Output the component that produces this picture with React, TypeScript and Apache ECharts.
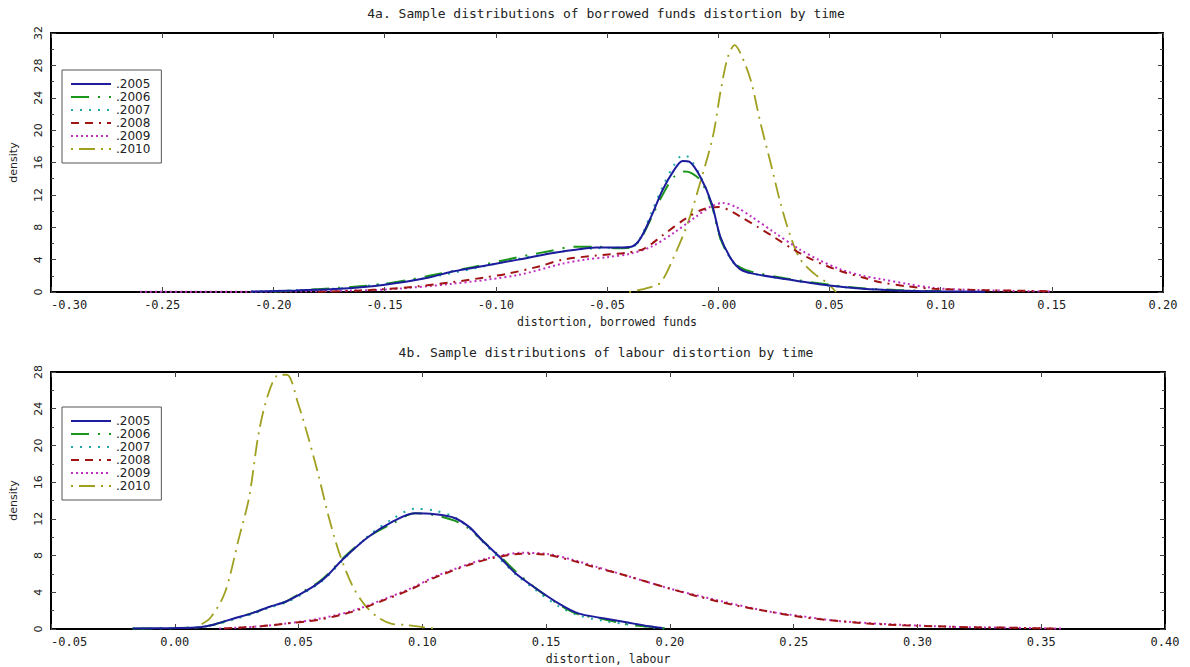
import React, { useEffect, useRef } from 'react';
import * as echarts from 'echarts';

// ---------- labels ----------
const seriesNames = ['.2005', '.2006', '.2007', '.2008', '.2009', '.2010'];
const topTitle = '4a. Sample distributions of borrowed funds distortion by time';
const bottomTitle = '4b. Sample distributions of labour distortion by time';
const topXName = 'distortion, borrowed funds';
const bottomXName = 'distortion, labour';
const yName = 'density';
const topXLabels = ['-0.30', '-0.25', '-0.20', '-0.15', '-0.10', '-0.05', '-0.00', '0.05', '0.10', '0.15', '0.20'];
const bottomXLabels = ['-0.05', '0.00', '0.05', '0.10', '0.15', '0.20', '0.25', '0.30', '0.35', '0.40'];
const topYLabels = ['0', '4', '8', '12', '16', '20', '24', '28', '32'];
const bottomYLabels = ['0', '4', '8', '12', '16', '20', '24', '28'];

// ---------- 4a: borrowed funds distortion ----------
const top2005: [number, number][] = [
  [-0.21, 0.05], [-0.19, 0.2], [-0.17, 0.4], [-0.15, 0.9], [-0.13, 1.8], [-0.12, 2.5], [-0.11, 3.0], [-0.09, 4.0],
  [-0.075, 4.8], [-0.065, 5.2], [-0.055, 5.5], [-0.045, 5.5], [-0.039, 5.6], [-0.035, 6.6], [-0.03, 9.4],
  [-0.025, 12.6], [-0.02, 15.0], [-0.016, 16.2], [-0.013, 16.1], [-0.008, 14.2], [-0.003, 11.0], [0.001, 6.8],
  [0.006, 4.0], [0.01, 2.8], [0.015, 2.3], [0.03, 1.6], [0.05, 0.8], [0.065, 0.4], [0.08, 0.2], [0.1, 0.08], [0.12, 0.02],
];
const top2006: [number, number][] = [
  [-0.2, 0.05], [-0.18, 0.35], [-0.15, 1.0], [-0.13, 2.0], [-0.11, 3.1], [-0.09, 4.3], [-0.075, 5.1],
  [-0.065, 5.6], [-0.055, 5.6], [-0.045, 5.4], [-0.039, 5.5], [-0.035, 6.5], [-0.03, 9.2], [-0.025, 12.0],
  [-0.02, 14.2], [-0.015, 14.9], [-0.012, 14.7], [-0.008, 13.8], [-0.003, 10.8], [0.001, 6.6], [0.006, 4.0],
  [0.01, 3.0], [0.015, 2.5], [0.03, 1.7], [0.05, 0.9], [0.065, 0.45], [0.08, 0.25], [0.1, 0.08],
];
const top2007: [number, number][] = [
  [-0.21, 0.05], [-0.19, 0.2], [-0.17, 0.45], [-0.15, 1.0], [-0.13, 1.8], [-0.11, 2.9], [-0.09, 4.1],
  [-0.075, 4.8], [-0.065, 5.2], [-0.055, 5.4], [-0.045, 5.5], [-0.039, 5.5], [-0.035, 6.7], [-0.03, 9.8],
  [-0.025, 13.0], [-0.02, 15.6], [-0.016, 16.9], [-0.013, 16.6], [-0.008, 14.3], [-0.003, 11.0], [0.001, 6.6],
  [0.006, 3.9], [0.01, 2.8], [0.015, 2.3], [0.03, 1.6], [0.05, 0.8], [0.065, 0.4], [0.08, 0.2], [0.1, 0.08],
];
const top2008: [number, number][] = [
  [-0.18, 0.02], [-0.16, 0.2], [-0.15, 0.35], [-0.135, 0.7], [-0.12, 1.2], [-0.105, 1.8], [-0.094, 2.3],
  [-0.08, 3.2], [-0.07, 4.0], [-0.055, 4.5], [-0.04, 4.9], [-0.033, 5.4], [-0.025, 7.0], [-0.015, 9.0],
  [-0.007, 10.2], [0.0, 10.5], [0.005, 10.1], [0.01, 9.3], [0.018, 8.0], [0.025, 6.8], [0.033, 5.4],
  [0.04, 4.3], [0.048, 3.3], [0.057, 2.4], [0.065, 1.8], [0.073, 1.2], [0.085, 0.7], [0.097, 0.4],
  [0.115, 0.25], [0.13, 0.18], [0.15, 0.1],
];
const top2009: [number, number][] = [
  [-0.26, 0.02], [-0.2, 0.05], [-0.17, 0.15], [-0.15, 0.3], [-0.12, 1.0], [-0.09, 2.1], [-0.07, 3.5],
  [-0.06, 4.0], [-0.05, 4.3], [-0.04, 4.7], [-0.03, 5.6], [-0.02, 7.3], [-0.01, 9.3], [-0.003, 10.6],
  [0.002, 11.0], [0.008, 10.5], [0.015, 9.3], [0.025, 7.4], [0.037, 5.2], [0.045, 4.0], [0.055, 2.8],
  [0.065, 2.0], [0.073, 1.6], [0.085, 1.0], [0.097, 0.5], [0.11, 0.3], [0.13, 0.15], [0.15, 0.05],
];
const top2010: [number, number][] = [
  [-0.04, 0.0], [-0.0316, 0.5], [-0.0258, 1.2], [-0.02, 4.3], [-0.0137, 8.5], [-0.0078, 13.8],
  [-0.0024, 19.2], [0.0012, 25.0], [0.0043, 29.0], [0.0074, 30.5], [0.01, 29.5], [0.0146, 26.2],
  [0.019, 20.9], [0.0236, 15.9], [0.028, 11.0], [0.0326, 6.8], [0.037, 4.0], [0.043, 2.3], [0.049, 1.1], [0.053, 0.0],
];

// ---------- 4b: labour distortion ----------
const bottom2005: [number, number][] = [
  [-0.017, 0.05], [0.0, 0.1], [0.01, 0.2], [0.016, 0.5], [0.0245, 1.2], [0.031, 1.7], [0.038, 2.4], [0.045, 3.0],
  [0.0514, 3.9], [0.058, 5.0], [0.0623, 6.0], [0.0675, 7.5], [0.078, 10.0], [0.088, 11.7], [0.097, 12.6], [0.105, 12.5],
  [0.113, 12.1], [0.119, 11.1], [0.124, 9.7], [0.131, 7.9], [0.1375, 6.1], [0.1455, 4.5], [0.155, 2.8],
  [0.163, 1.7], [0.1725, 1.2], [0.183, 0.7], [0.1915, 0.3], [0.197, 0.1],
];
const bottom2006: [number, number][] = [
  [-0.017, 0.05], [0.0, 0.1], [0.01, 0.2], [0.016, 0.5], [0.0245, 1.2], [0.031, 1.7], [0.038, 2.4], [0.045, 3.0],
  [0.0514, 4.0], [0.058, 5.1], [0.0623, 6.1], [0.0675, 7.6], [0.078, 10.0], [0.088, 11.5], [0.097, 12.6], [0.105, 12.4],
  [0.113, 11.8], [0.119, 10.9], [0.124, 9.7], [0.131, 8.0], [0.138, 6.2], [0.146, 4.4], [0.155, 2.7],
  [0.163, 1.6], [0.173, 1.1], [0.183, 0.5], [0.192, 0.25], [0.198, 0.1],
];
const bottom2007: [number, number][] = [
  [-0.017, 0.05], [0.0, 0.1], [0.01, 0.2], [0.016, 0.45], [0.0245, 1.1], [0.031, 1.6], [0.038, 2.3], [0.045, 2.9],
  [0.0514, 3.8], [0.058, 4.9], [0.0623, 5.9], [0.0675, 7.4], [0.078, 10.1], [0.088, 12.0], [0.097, 13.1], [0.105, 12.9],
  [0.113, 12.2], [0.119, 11.0], [0.124, 9.6], [0.131, 7.7], [0.138, 5.9], [0.146, 4.2], [0.155, 2.5],
  [0.163, 1.5], [0.173, 0.9], [0.183, 0.5], [0.192, 0.2], [0.198, 0.05],
];
const bottom2008: [number, number][] = [
  [0.02, 0.05], [0.035, 0.3], [0.045, 0.6], [0.058, 1.0], [0.072, 1.9], [0.085, 3.2], [0.096, 4.4],
  [0.105, 5.6], [0.119, 7.0], [0.128, 7.7], [0.14, 8.2], [0.15, 8.1], [0.16, 7.5], [0.17, 6.7], [0.18, 6.0],
  [0.19, 5.2], [0.2, 4.4], [0.212, 3.5], [0.226, 2.6], [0.24, 1.9], [0.253, 1.3], [0.267, 0.9], [0.28, 0.6],
  [0.294, 0.4], [0.307, 0.3], [0.32, 0.2], [0.335, 0.15], [0.355, 0.05],
];
const bottom2009: [number, number][] = [
  [0.018, 0.05], [0.035, 0.3], [0.045, 0.6], [0.058, 1.1], [0.072, 2.0], [0.085, 3.3], [0.096, 4.5],
  [0.105, 5.7], [0.119, 7.1], [0.128, 7.8], [0.14, 8.3], [0.15, 8.2], [0.16, 7.6], [0.17, 6.8], [0.18, 6.0],
  [0.19, 5.2], [0.2, 4.4], [0.212, 3.6], [0.226, 2.7], [0.24, 1.9], [0.253, 1.4], [0.267, 0.9], [0.28, 0.65],
  [0.294, 0.45], [0.307, 0.3], [0.32, 0.2], [0.335, 0.15], [0.358, 0.05],
];
const bottom2010: [number, number][] = [
  [0.008, 0.1], [0.0143, 1.2], [0.0203, 4.0], [0.0259, 9.9], [0.03, 14.3], [0.034, 21.5], [0.038, 25.8],
  [0.042, 27.7], [0.0453, 27.7], [0.05, 24.4], [0.054, 20.8], [0.058, 16.8], [0.062, 12.4], [0.0663, 8.4],
  [0.0716, 4.8], [0.0768, 2.6], [0.0824, 1.2], [0.0877, 0.55], [0.093, 0.45], [0.1, 0.2], [0.105, 0.05],
];

const topData = [top2005, top2006, top2007, top2008, top2009, top2010];
const bottomData = [bottom2005, bottom2006, bottom2007, bottom2008, bottom2009, bottom2010];

// ---------- styles ----------
const colors = ['#1c1c9c', '#1a961a', '#20a8a8', '#a01414', '#c030c0', '#a0a020'];
const dashTypes: any[] = ['solid', [18, 9, 2, 9], [2, 7], [8, 6, 8, 6, 2, 6], [2, 3], [2, 6, 16, 6]];
const widths = [2, 2, 2, 2, 2, 1.8];
const FONT = 'DejaVu Sans';
const MONO = 'DejaVu Sans Mono';
const TXT = '#222';

function xAxes(grid: number, min: number, max: number, labels: string[], name: string) {
  const interval = 0.05;
  return [
    {
      type: 'value', gridIndex: grid, position: 'bottom', min, max, interval,
      name, nameLocation: 'middle', nameGap: 24,
      nameTextStyle: { fontFamily: MONO, fontSize: 11.5, color: TXT },
      axisLine: { show: true, onZero: false, lineStyle: { color: '#000', width: 2 } },
      axisTick: { show: true, inside: true, length: 5, lineStyle: { color: '#444' } },
      axisLabel: {
        margin: 7, fontFamily: MONO, fontSize: 12, color: TXT, alignMinLabel: 'left',
        formatter: (v: number) => labels[Math.round((v - min) / interval)] ?? '',
      },
      splitLine: { show: false },
    },
    {
      type: 'value', gridIndex: grid, position: 'top', min, max, interval,
      axisLine: { show: true, onZero: false, lineStyle: { color: '#000', width: 2 } },
      axisTick: { show: true, inside: true, length: 5, lineStyle: { color: '#444' } },
      axisLabel: { show: false },
      splitLine: { show: false },
    },
  ];
}

function yAxes(grid: number, max: number, labels: string[]) {
  const interval = 4;
  return [
    {
      type: 'value', gridIndex: grid, position: 'left', min: 0, max, interval,
      name: yName, nameLocation: 'middle', nameGap: 32, nameRotate: 90,
      nameTextStyle: { fontFamily: FONT, fontSize: 11, color: TXT },
      axisLine: { show: true, onZero: false, lineStyle: { color: '#000', width: 2 } },
      axisTick: { show: true, inside: true, length: 5, lineStyle: { color: '#444' } },
      minorTick: { show: true, splitNumber: 2, length: 3, lineStyle: { color: '#444' } },
      axisLabel: {
        rotate: 90, margin: 7, fontFamily: FONT, fontSize: 11, color: TXT,
        formatter: (v: number) => labels[Math.round(v / interval)] ?? '',
      },
      splitLine: { show: false },
    },
    {
      type: 'value', gridIndex: grid, position: 'right', min: 0, max, interval,
      axisLine: { show: true, onZero: false, lineStyle: { color: '#000', width: 2 } },
      axisTick: { show: true, inside: true, length: 5, lineStyle: { color: '#444' } },
      minorTick: { show: true, splitNumber: 2, length: 3, lineStyle: { color: '#444' } },
      axisLabel: { show: false },
      splitLine: { show: false },
    },
  ];
}

function legend(top: number) {
  return {
    data: seriesNames, orient: 'vertical', left: 62, top,
    itemWidth: 40, itemHeight: 8, itemGap: 1, padding: [8, 11, 8, 8],
    borderColor: '#555', borderWidth: 1, backgroundColor: '#fff',
    selectedMode: false,
    itemStyle: { opacity: 0 },
    textStyle: { fontFamily: FONT, fontSize: 12, lineHeight: 12, color: TXT },
  };
}

function makeSeries(datasets: [number, number][][], xIdx: number, yIdx: number) {
  const out: any[] = [];
  for (let i = datasets.length - 1; i >= 0; i--) {
    out.push({
      type: 'line', name: seriesNames[i], xAxisIndex: xIdx, yAxisIndex: yIdx,
      data: datasets[i], symbol: 'none', smooth: 0.3,
      lineStyle: { color: colors[i], width: widths[i], type: dashTypes[i] },
      itemStyle: { color: colors[i] },
      z: 10 - i,
    });
  }
  return out;
}

export default function App() {
  const ref = useRef<HTMLDivElement>(null);
  useEffect(() => {
    if (!ref.current) return;
    const chart = echarts.init(ref.current, undefined, { renderer: 'svg' });
    chart.setOption({
      animation: false,
      backgroundColor: '#fff',
      grid: [
        { left: 49, right: 27, top: 33, height: 259 },
        { left: 49, right: 25, top: 372, height: 257 },
      ],
      xAxis: [
        ...xAxes(0, -0.3, 0.2, topXLabels, topXName),
        ...xAxes(1, -0.05, 0.4, bottomXLabels, bottomXName),
      ],
      yAxis: [
        ...yAxes(0, 32, topYLabels),
        ...yAxes(1, 28, bottomYLabels),
      ],
      legend: [legend(70), legend(407)],
      graphic: [
        { type: 'text', x: 606, y: 13, style: { text: topTitle, align: 'center', verticalAlign: 'middle', font: `13px "${MONO}"`, fill: TXT } },
        { type: 'text', x: 606, y: 352, style: { text: bottomTitle, align: 'center', verticalAlign: 'middle', font: `13px "${MONO}"`, fill: TXT } },
      ],
      series: [
        ...makeSeries(topData, 0, 0),
        ...makeSeries(bottomData, 2, 2),
      ],
    });
    return () => chart.dispose();
  }, []);
  return <div ref={ref} style={{ position: 'fixed', left: 0, top: 0, width: 1190, height: 667, background: '#fff' }} />;
}
